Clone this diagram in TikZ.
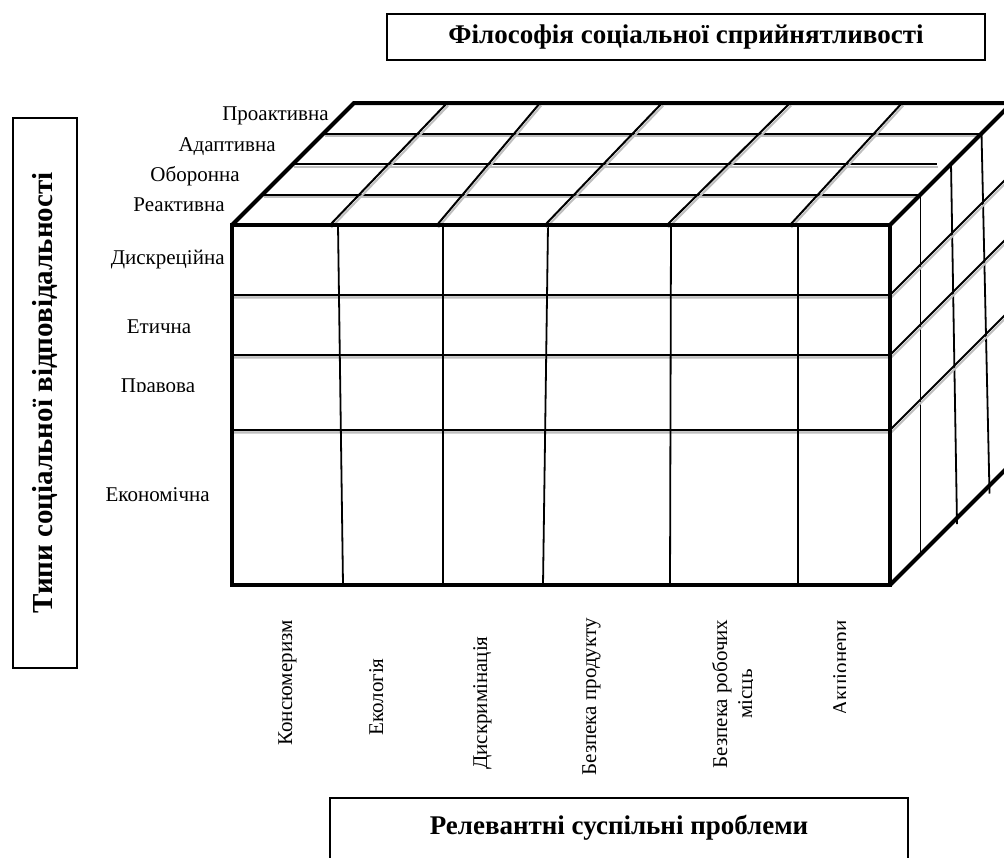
\documentclass[tikz,border=0pt]{standalone}
\usepackage{fontspec}
\setmainfont{Liberation Serif}
\usetikzlibrary{calc}

\begin{document}
\begin{tikzpicture}[x=0.5pt, y=-0.5pt]

% styles
\tikzset{
  edge/.style={line width=2pt, line join=miter},
  grid/.style={line width=1pt,
    preaction={draw, gray!50, line width=1pt,
      transform canvas={shift={(0.6pt,-1.3pt)}}}},
  plain/.style={line width=0.9pt},
  lbl/.style={font=\fontsize{10.5}{12.5}\selectfont, inner sep=0pt},
  side/.style={lbl, rotate=90},
  title/.style={draw, line width=1pt, inner sep=0pt,
    font=\fontsize{13.5}{16}\selectfont\bfseries},
}

% frame
\useasboundingbox (0,0) rectangle (1004,857);
\clip (0,0) rectangle (1004,857);

% cube corners
\coordinate (FTL) at (232,225);
\coordinate (FTR) at (890,225);
\coordinate (FBR) at (890,585);
\coordinate (BTL) at (354,103);
\coordinate (BTR) at (1012,103);
\coordinate (BBR) at (1012,463);

% top face rows
\foreach \d/\e in {30.5/30,61/47,91.5/91.5}
  \draw[grid] (232+\d,225-\d) -- (890+\e,225-\d);

% right face columns
\foreach \d/\s in {30.5/0,61/6,91.5/8}
  \draw[plain] (890+\d,225-\d) -- (890+\d+\s,585-\d);

% front face rows, carried round the right face
\foreach \y in {295,355,430}
  \draw[grid] (232,\y) -- (890,\y) -- ++(122,-122);

% front face columns
\foreach \a/\b in {338/343,443/443,548/543,671/670,798/798}
  \draw[plain] (\a,225) -- (\b,585);

% top face diagonals
\foreach \a/\b in {330/447,437/540,545/662,667/790,790/902}
  \draw[grid] (\a,225) -- (\b,103);

% outer edges
\draw[edge] (FTL) rectangle (FBR);
\draw[edge] (FTL) -- (BTL) -- (BTR);
\draw[edge] (FTR) -- (BTR);
\draw[edge] (FBR) -- (BBR);

% depth labels
\node[lbl, anchor=base east] (proact) at (329,120) {Проактивна};
\node[lbl, anchor=base east] (adapt) at (276,151) {Адаптивна};
\node[lbl, anchor=base east] (defens) at (240,181) {Оборонна};
\node[lbl, anchor=base east] (react) at (225,211) {Реактивна};

% height labels
\node[lbl, anchor=base east] (discr) at (225,264) {Дискреційна};
\node[lbl, anchor=base] (ethic) at (159,333) {Етична};
\begin{scope}
  \clip (100,350) rectangle (230,391);
  \node[lbl, anchor=base] (legal) at (158,392) {Правова};
\end{scope}
\node[lbl, anchor=base east] (econ) at (210,501) {Економічна};

% issue labels
\node[side, anchor=base] (consum) at (292,683) {Консюмеризм};
\node[side, anchor=base] (ecol) at (383,697) {Екологія};
\node[side, anchor=base] (discrim) at (487,703) {Дискримінація};
\node[side, anchor=base] (prodsafe) at (596,697) {Безпека продукту};
\begin{scope}
  \clip (700,600) rectangle (752,800);
  \node[side, align=center] (jobsafe) at (734,694) {Безпека робочих\\місць};
\end{scope}
\begin{scope}
  \clip (800,600) rectangle (845,800);
  \node[side, anchor=base] (share) at (847,668) {Акціонери};
\end{scope}

% title boxes
\node[title, minimum width=299pt, minimum height=23pt] (philo) at (686,37)
  {Філософія соціальної сприйнятливості};
\node[title, rotate=90, minimum width=275pt, minimum height=32pt,
  font=\fontsize{14.5}{17}\selectfont\bfseries] (types) at (45,393)
  {Типи соціальної відповідальності};
\node[title, anchor=north, minimum width=289pt, text height=18pt, text depth=24pt]
  (issues) at (619,797) {Релевантні суспільні проблеми};

\end{tikzpicture}
\end{document}
